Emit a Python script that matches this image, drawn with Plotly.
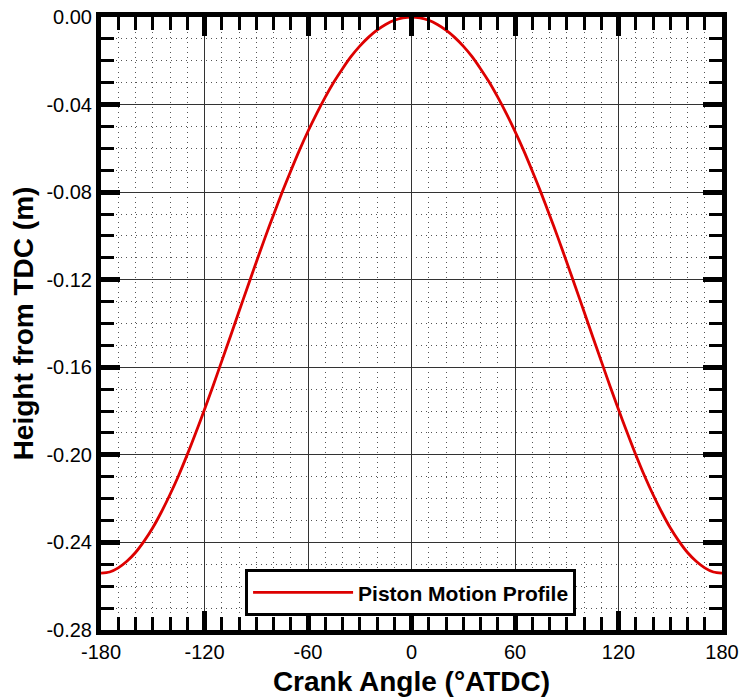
import plotly.graph_objects as go

# Crank angle (deg ATDC) and piston height from TDC (m)
angle_right = [0, 5, 10, 15, 20, 25, 30, 35, 40, 45, 50, 55, 60, 65, 70, 75,
               80, 85, 90, 95, 100, 105, 110, 115, 120, 125, 130, 135, 140,
               145, 150, 155, 160, 165, 170, 175, 180]
height_right = [0.0, -0.0004, -0.0015, -0.0034, -0.0060, -0.0093, -0.0133,
                -0.0180, -0.0236, -0.0297, -0.0366, -0.0441, -0.0522,
                -0.0609, -0.0703, -0.0801, -0.0904, -0.1010, -0.1120,
                -0.1232, -0.1345, -0.1459, -0.1572, -0.1684, -0.1793,
                -0.1898, -0.1999, -0.2094, -0.2181, -0.2261, -0.2333,
                -0.2394, -0.2446, -0.2486, -0.2516, -0.2535, -0.2540]
crank_angle = [-a for a in angle_right[::-1]] + angle_right[1:]
height = height_right[::-1] + height_right[1:]

x_ticks = [-180, -120, -60, 0, 60, 120, 180]
x_tick_text = [str(v) for v in x_ticks]
y_ticks = [0.00, -0.04, -0.08, -0.12, -0.16, -0.20, -0.24, -0.28]
y_tick_text = ["%.2f" % v for v in y_ticks]

FONT = "Liberation Sans, Arial, Helvetica, sans-serif"

fig = go.Figure()
fig.add_trace(go.Scatter(
    x=crank_angle, y=height, mode="lines", name="Piston Motion Profile",
    line=dict(color="#dd0000", width=2.8, shape="spline", smoothing=0.8),
))

axis_common = dict(
    showline=True, linecolor="black", linewidth=5, mirror="ticks",
    ticks="inside", ticklen=19, tickwidth=5, tickcolor="black",
    showgrid=True, gridcolor="#333333", gridwidth=1,
    zeroline=False, automargin=False,
    tickfont=dict(family=FONT, size=20, color="black"),
    layer="above traces",
)

minor_common = dict(ticks="inside", ticklen=13, tickwidth=3,
                    tickcolor="black", showgrid=True, gridcolor="#555555",
                    gridwidth=1, griddash="1px,4px")

fig.update_xaxes(
    range=[-180, 180], tickvals=x_ticks, ticktext=x_tick_text,
    minor=dict(dtick=10, tick0=0, **minor_common),
    title=dict(text="<b>Crank Angle (°ATDC)</b>",
               font=dict(family=FONT, size=28, color="black"), standoff=11),
    **axis_common,
)
fig.update_yaxes(
    range=[-0.28, 0.0], tickvals=y_ticks, ticktext=y_tick_text,
    minor=dict(dtick=0.01, tick0=0, **minor_common),
    title=dict(text="<b>Height from TDC (m)</b>",
               font=dict(family=FONT, size=28, color="black"), standoff=6),
    **axis_common,
)

fig.update_layout(
    width=741, height=700,
    margin=dict(l=101, r=19, t=17, b=70, pad=0),
    paper_bgcolor="white", plot_bgcolor="white",
    showlegend=True,
    legend=dict(
        x=0.232, y=0.099, xanchor="left", yanchor="top",
        bgcolor="white", bordercolor="black", borderwidth=3,
        font=dict(family=FONT, size=21, color="black", weight="bold"),
        itemwidth=100, tracegroupgap=0,
    ),
)

fig.write_html("out.html")
